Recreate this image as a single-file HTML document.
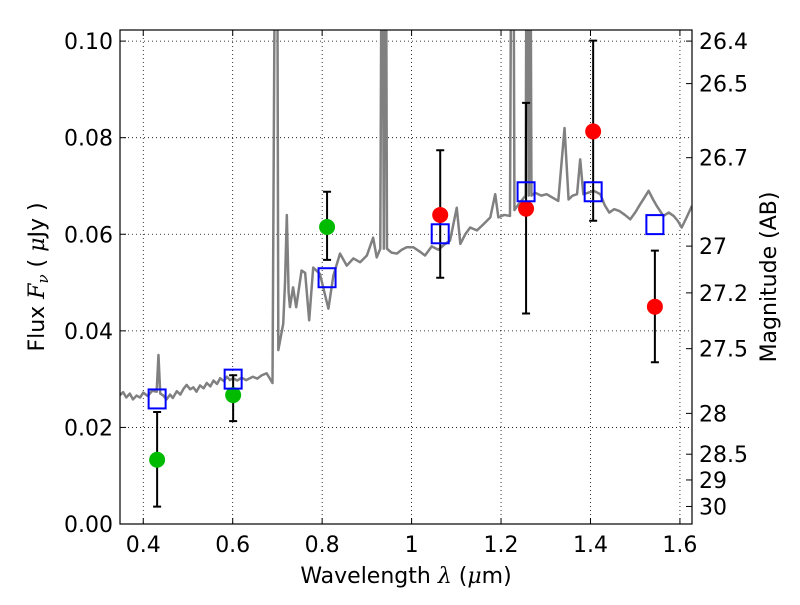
<!DOCTYPE html>
<html><head><meta charset="utf-8"><style>
body{margin:0;background:#fff}
text{font-family:"DejaVu Sans","Liberation Sans",sans-serif;font-size:22px;fill:#000}
</style></head><body>
<svg id="c" width="800" height="600" xmlns="http://www.w3.org/2000/svg"></svg>
<script>
const specLam=[0.348,0.355,0.362,0.37,0.377,0.385,0.393,0.40,0.41,0.42,0.430,0.434,0.438,0.445,0.452,0.46,0.466,0.475,0.483,0.49,0.497,0.505,0.512,0.519,0.527,0.535,0.542,0.55,0.557,0.565,0.572,0.58,0.587,0.594,0.601,0.61,0.62,0.63,0.645,0.655,0.665,0.676,0.689,0.696,0.699,0.702,0.713,0.717,0.721,0.725,0.728,0.735,0.742,0.754,0.762,0.771,0.780,0.795,0.814,0.825,0.840,0.855,0.87,0.885,0.9,0.914,0.922,0.930,0.934,0.938,0.942,0.945,0.955,0.967,0.978,0.989,1.004,1.017,1.030,1.045,1.06,1.075,1.086,1.101,1.109,1.12,1.131,1.146,1.161,1.176,1.187,1.194,1.207,1.220,1.224,1.227,1.230,1.239,1.255,1.258,1.262,1.265,1.268,1.276,1.29,1.302,1.315,1.328,1.342,1.351,1.36,1.370,1.377,1.384,1.395,1.407,1.422,1.432,1.442,1.453,1.465,1.477,1.489,1.50,1.511,1.520,1.530,1.54,1.548,1.563,1.575,1.586,1.595,1.604,1.615,1.627];
const specFlux=[0.0267,0.0273,0.0262,0.027,0.0258,0.0266,0.0262,0.0272,0.0265,0.0276,0.0274,0.035,0.027,0.0266,0.0258,0.0268,0.0261,0.0275,0.0268,0.028,0.0288,0.0279,0.0283,0.0274,0.0287,0.0281,0.0292,0.0285,0.0297,0.029,0.0302,0.0296,0.0305,0.0298,0.0302,0.0297,0.0303,0.0298,0.0305,0.0301,0.0308,0.0312,0.0292,0.15,0.15,0.036,0.0415,0.05,0.064,0.048,0.0449,0.049,0.0449,0.0525,0.052,0.0422,0.0531,0.0518,0.0446,0.0514,0.056,0.0535,0.055,0.0542,0.0556,0.0593,0.0552,0.057,0.15,0.057,0.15,0.057,0.0562,0.056,0.0568,0.0573,0.0573,0.0565,0.0556,0.0575,0.0568,0.058,0.0587,0.0655,0.058,0.06,0.0614,0.0608,0.0621,0.0635,0.0683,0.0635,0.064,0.0638,0.15,0.15,0.065,0.0662,0.068,0.15,0.068,0.15,0.068,0.0686,0.068,0.0683,0.0676,0.0669,0.082,0.0672,0.068,0.0683,0.0755,0.0683,0.0686,0.069,0.0683,0.066,0.0645,0.0652,0.0648,0.064,0.0631,0.0645,0.0662,0.0675,0.069,0.0672,0.0659,0.0638,0.0645,0.0638,0.0628,0.0614,0.0635,0.0659];
const greenLam=[0.431,0.601,0.811];
const greenFlux=[0.0133,0.0267,0.0615];
const greenLo=[0.0036,0.0213,0.0547];
const greenHi=[0.0232,0.0308,0.0688];
const redLam=[1.064,1.256,1.406,1.544];
const redFlux=[0.064,0.0653,0.0813,0.045];
const redLo=[0.051,0.0436,0.0628,0.0335];
const redHi=[0.0774,0.0872,0.1001,0.0566];
const modelLam=[0.431,0.601,0.811,1.064,1.256,1.406,1.544];
const modelFlux=[0.0259,0.030,0.051,0.0601,0.0688,0.0688,0.062];
const xTicks=[0.4,0.6,0.8,1.0,1.2,1.4,1.6];
const xTickLabels=["0.4","0.6","0.8","1","1.2","1.4","1.6"];
const yTicks=[0,0.02,0.04,0.06,0.08,0.10];
const yTickLabels=["0.00","0.02","0.04","0.06","0.08","0.10"];
const magTicks=[26.4,26.5,26.7,27,27.2,27.5,28,28.5,29,30];
const magLabels=["26.4","26.5","26.7","27","27.2","27.5","28","28.5","29","30"];

const L=120,R=692,T=30,B=524,xmin=0.348,xmax=1.627,ymin=0,ymax=0.1023;
const X=v=>L+(v-xmin)/(xmax-xmin)*(R-L);
const Y=v=>B-(v-ymin)/(ymax-ymin)*(B-T);
const svg=document.getElementById('c');const NS='http://www.w3.org/2000/svg';
function mk(t,a,p){const e=document.createElementNS(NS,t);for(const k in a)e.setAttribute(k,a[k]);(p||svg).appendChild(e);return e;}
const cp=mk('clipPath',{id:'cp'});mk('rect',{x:L,y:T,width:R-L,height:B-T},cp);
xTicks.forEach((v,i)=>{const x=X(v);
 const g=mk('line',{x1:x,x2:x,y1:T,y2:B,stroke:'#000','stroke-width':0.8,'stroke-dasharray':'1,3'});
 
 mk('line',{x1:x,x2:x,y1:B,y2:B-6,stroke:'#000'});mk('line',{x1:x,x2:x,y1:T,y2:T+6,stroke:'#000'});
 const t=mk('text',{x:x,y:B+28,'text-anchor':'middle'});t.textContent=xTickLabels[i];
 });
yTicks.forEach((v,i)=>{const y=Y(v);
 const g=mk('line',{x1:L,x2:R,y1:y,y2:y,stroke:'#000','stroke-width':0.8,'stroke-dasharray':'1,3'});
 
 mk('line',{x1:L,x2:L+6,y1:y,y2:y,stroke:'#000'});
 const t=mk('text',{x:L-7,y:y+8,'text-anchor':'end'});t.textContent=yTickLabels[i];
 });
magTicks.forEach((m,i)=>{const f=Math.pow(10,(23.9-m)/2.5);const y=Y(f);
 mk('line',{x1:R,x2:R-6,y1:y,y2:y,stroke:'#000'});
 const t=mk('text',{x:R+7,y:y+8});t.textContent=magLabels[i];
 });
const g=mk('g',{'clip-path':'url(#cp)'});
const sp=mk('polyline',{points:specLam.map((l,i)=>X(l)+','+Y(specFlux[i])).join(' '),fill:'none',stroke:'#808080','stroke-width':2.5,'stroke-linejoin':'round'},g);

function err(lam,lo,hi,name){lam.forEach((l,i)=>{const x=X(l);
 const e=mk('path',{d:`M${x},${Y(lo[i])}V${Y(hi[i])}M${x-4},${Y(lo[i])}H${x+4}M${x-4},${Y(hi[i])}H${x+4}`,stroke:'#000','stroke-width':2,fill:'none'},g);
 });}
err(greenLam,greenLo,greenHi,'green-error-bar');err(redLam,redLo,redHi,'red-error-bar');
greenLam.forEach((l,i)=>{const c=mk('circle',{cx:X(l),cy:Y(greenFlux[i]),r:8,fill:'#00bb00'},g);
 });
redLam.forEach((l,i)=>{const c=mk('circle',{cx:X(l),cy:Y(redFlux[i]),r:8,fill:'#ff0000'},g);
 });
modelLam.forEach((l,i)=>{const r=mk('rect',{x:X(l)-8.5,y:Y(modelFlux[i])-9.5,width:17,height:19,fill:'none',stroke:'#0000ff','stroke-width':2},g);
 });
const fr=mk('rect',{x:L,y:T,width:R-L,height:B-T,fill:'none',stroke:'#000','stroke-width':1.2});

const xl=mk('text',{x:406,y:583,'text-anchor':'middle'});xl.innerHTML='Wavelength  <tspan font-style="italic" font-family="DejaVu Serif">λ</tspan> (<tspan font-style="italic" font-family="DejaVu Serif">μ</tspan>m)';

const yl=mk('text',{x:0,y:0,'text-anchor':'middle',transform:'translate(44,277) rotate(-90)'});yl.innerHTML='Flux  <tspan font-style="italic" font-family="DejaVu Serif">F</tspan><tspan font-style="italic" font-family="DejaVu Serif" font-size="15" dy="4">ν</tspan><tspan dy="-4">  ( <tspan font-style="italic" font-family="DejaVu Serif">μ</tspan>Jy )</tspan>';

const ml=mk('text',{x:0,y:0,'text-anchor':'middle',transform:'translate(776,277) rotate(-90)'});ml.textContent='Magnitude (AB)';

</script>
</body></html>
